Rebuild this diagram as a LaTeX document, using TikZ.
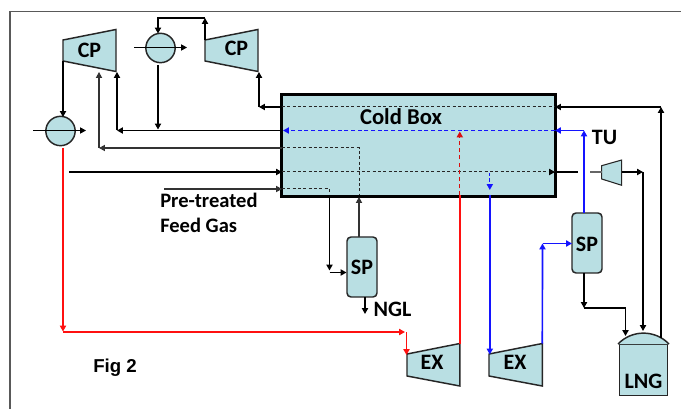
\documentclass[tikz,border=0pt]{standalone}
\usepackage{fontspec}
\setmainfont{Carlito}
\newfontfamily\figfont{Liberation Sans}
\usetikzlibrary{arrows.meta}
\definecolor{ice}{HTML}{B9DFE3}
\definecolor{redline}{HTML}{FF1010}
\definecolor{blueline}{HTML}{1414FF}
\tikzset{
  x=0.75pt,y=-0.75pt,
  tip/.style={-{Triangle[length=4.4pt,width=4.6pt]}},
  flow/.style={line width=1pt,black,line join=miter},
  thinflow/.style={line width=0.8pt,black!80},
  redflow/.style={line width=1.25pt,redline},
  blueflow/.style={line width=1.25pt,blueline},
  indash/.style={line width=0.75pt,dash pattern=on 2.2pt off 1.8pt,black!85},
  equip/.style={draw=black!85,line width=1.1pt,fill=ice,line join=miter},
  cooler/.style={circle,draw=black!85,line width=1.1pt,fill=ice,minimum size=22pt,inner sep=0pt},
  sep/.style={draw=black!85,line width=1.1pt,fill=ice,rounded corners=3pt,minimum width=22.5pt,minimum height=45pt,inner sep=0pt},
  lbl/.style={font=\fontsize{16.5}{18}\selectfont\bfseries,text=black,inner sep=0pt},
  feedlbl/.style={font=\fontsize{15.4}{18}\selectfont\bfseries,text=black,inner sep=0pt,anchor=west},
}
\begin{document}
\begin{tikzpicture}
\useasboundingbox (0,0) rectangle (681,409);
\fill[white] (0,0) rectangle (681,409);
\draw[line width=0.8pt,black!65] (10,409) -- (10,11.5) -- (681,11.5);

% points
\coordinate (cpAa) at (63,40);   \coordinate (cpAb) at (116,29.5);
\coordinate (cpAc) at (116,71.5);\coordinate (cpAd) at (63,61);
\coordinate (cpBa) at (205,40);  \coordinate (cpBb) at (258,29.5);
\coordinate (cpBc) at (258,71.5);\coordinate (cpBd) at (205,61);
\coordinate (exAa) at (407,354); \coordinate (exAb) at (459.8,343.5);
\coordinate (exAc) at (459.8,386);\coordinate (exAd) at (407,376);
\coordinate (exBa) at (489,354); \coordinate (exBb) at (542.3,343.5);
\coordinate (exBc) at (542.3,386);\coordinate (exBd) at (489,376);
\coordinate (tuAa) at (601.7,165.7);\coordinate (tuAb) at (621.7,160);
\coordinate (tuAc) at (621.7,185.3);\coordinate (tuAd) at (601.7,179);

% cold box
\node[draw=black,line width=2.2pt,fill=ice,minimum width=205.5pt,minimum height=76.5pt,inner sep=0pt] (box) at (418.7,145.3) {};

% dashed passes in the box
\coordinate (p1w) at (282,107);    \coordinate (p1e) at (555,107);
\coordinate (p2w) at (283,130.5);  \coordinate (p2e) at (555,130.5);
\coordinate (p3w) at (282,148);    \coordinate (p3c) at (359,148);  \coordinate (p3s) at (359,195);
\coordinate (p4w) at (282,172);    \coordinate (p4e) at (555,172);
\coordinate (p5w) at (282,189);    \coordinate (p5c) at (329.5,189);\coordinate (p5s) at (329.5,195);
\draw[indash] (p1w) -- (p1e);
\draw[indash] (p3w) -- (p3c) -- (p3s);
\draw[indash] (p4w) -- (p4e);
\draw[indash] (p5w) -- (p5c) -- (p5s);
\draw[line width=1pt,blueline,dash pattern=on 3pt off 2pt,tip] (p2e) -- (p2w);
\coordinate (rs) at (459.8,195.5); \coordinate (rt) at (459.8,131.5);
\draw[line width=1pt,redline!85!black,dash pattern=on 3pt off 2.4pt,tip] (rs) -- (rt);
\coordinate (bs) at (489.8,173); \coordinate (bt) at (489.8,190);
\draw[line width=0.8pt,blueline,dash pattern=on 2.5pt off 1.6pt,tip] (bs) -- (bt);

% equipment
\draw[equip] (cpAa) -- (cpAb) -- (cpAc) -- (cpAd) -- cycle;
\draw[equip] (cpBa) -- (cpBb) -- (cpBc) -- (cpBd) -- cycle;
\draw[equip] (exAa) -- (exAb) -- (exAc) -- (exAd) -- cycle;
\draw[equip] (exBa) -- (exBb) -- (exBc) -- (exBd) -- cycle;
\draw[equip,line width=0.8pt] (tuAa) -- (tuAb) -- (tuAc) -- (tuAd) -- cycle;
\node[cooler] (clA) at (160.5,48) {};
\node[cooler] (clB) at (60.5,131) {};
\node[sep] (spA) at (362,267) {};
\node[sep] (spB) at (587,243) {};
\coordinate (lngNW) at (619.5,344.5); \coordinate (lngSE) at (667.5,395.7);
\draw[equip] (lngNW) rectangle (lngSE);
\coordinate (domeW) at (618,344); \coordinate (domeE) at (669,344);
\fill[ice] (domeW) .. controls (632,329.5) and (655,329.5) .. (domeE) -- cycle;
\draw[line width=1.1pt,black!85] (domeW) .. controls (632,329.5) and (655,329.5) .. (domeE);

% top cooler and compressors
\coordinate (clAw) at (134,47.5); \coordinate (clAe) at (187,47.5);
\draw[thinflow,black,tip] (clAw) -- (clAe);
\coordinate (clBw) at (33,130.5); \coordinate (clBe) at (86,130.5);
\draw[thinflow,black,tip] (clBw) -- (clBe);
\coordinate (j1) at (205,18);
\draw[flow,tip] (cpBa) -- (j1);
\coordinate (t1) at (158,18); \coordinate (t2) at (158,33.5);
\draw[flow,tip] (j1) -- (t1) -- (t2);
\coordinate (c1) at (158,65); \coordinate (c2) at (158,129.5);
\draw[flow,tip] (c1) -- (c2);
\coordinate (m1) at (117,130.5); \coordinate (m2) at (117,72);
\draw[flow,tip] (p2w -| box.west) -- (m1);
\draw[flow,tip] (m1) -- (m2);
\coordinate (n1) at (99,148); \coordinate (n2) at (99,72);
\draw[thinflow,tip] (p3w) -- (n1);
\draw[thinflow,tip] (n1) -- (n2);
\coordinate (o1) at (259,107); \coordinate (o2) at (259,72);
\draw[flow,tip] (p1w) -- (o1);
\draw[flow,tip] (o1) -- (o2);
\coordinate (q1) at (63,117);
\draw[flow,tip] (cpAd) -- (q1);
\coordinate (s1) at (69,172);
\draw[flow,tip] (s1) -- (p4w);
\coordinate (s2) at (164,189);
\draw[thinflow,tip] (s2) -- (p5w);

% SP 1
\coordinate (u1) at (329.5,270.5); \coordinate (u2) at (329.5,272.5); \coordinate (u3) at (346.5,272.5);
\draw[flow,tip] (p5s) -- (u1);
\draw[flow,tip] (u2) -- (u3);
\coordinate (v1) at (359,237); \coordinate (v2) at (359,197);
\draw[thinflow,tip] (v1) -- (v2);
\coordinate (w1) at (365,297); \coordinate (w2) at (365,314);
\draw[flow,tip] (w1) -- (w2);

% red
\coordinate (r0) at (63,148); \coordinate (r1) at (63,331.5); \coordinate (r2) at (63,332);
\coordinate (r3) at (405,332); \coordinate (r4) at (406.5,332); \coordinate (r5) at (406.5,355);
\draw[redflow,tip] (r0) -- (r1);
\draw[redflow,tip] (r2) -- (r3);
\draw[redflow,tip] (r4) -- (r5);
\draw[redflow] (exAb) -- (rs);

% blue
\coordinate (b1) at (489.8,195.5); \coordinate (b2) at (489.8,354.5);
\draw[blueflow,tip] (b1) -- (b2);
\coordinate (b3) at (542.5,243.5); \coordinate (b4) at (572,243.5);
\draw[blueflow,tip] (exBb) -- (b3);
\draw[blueflow,tip] (b3) -- (b4);
\coordinate (b5) at (584,213); \coordinate (b6) at (584,130.5);
\draw[blueflow,tip] (b5) -- (b6);
\draw[blueflow,tip] (b6) -- (p2e);

% right side
\coordinate (d0) at (578,172); \coordinate (d1) at (590,172);
\draw[flow,tip] (p4e) ++(-3,0) -- +(3,0);
\draw[flow] (p4e) -- (d0);
\draw[thinflow,black!60] (d1) -- (601.7,172);
\coordinate (d2) at (621.7,172); \coordinate (d3) at (643,172); \coordinate (d4) at (643,331);
\draw[flow,tip] (d2) -- (d3);
\draw[flow,tip] (d3) -- (d4);
\coordinate (e1) at (661,338); \coordinate (e2) at (661,107);
\draw[flow,tip] (e1) -- (e2);
\draw[flow,tip] (e2) -- (p1e);
\coordinate (f1) at (584,273); \coordinate (f2) at (584,308); \coordinate (f3) at (625.5,308); \coordinate (f4) at (625.5,336);
\draw[flow,tip] (f1) -- (f2);
\draw[flow,tip] (f2) -- (f3) -- (f4);

% labels
\node[lbl] (tCPa) at (89.5,50.5) {CP};
\node[lbl] (tCPb) at (236.5,48) {CP};
\node[lbl,font=\fontsize{17}{18}\selectfont\bfseries] (tBox) at (401,117) {Cold Box};
\node[lbl] (tTU) at (604.5,137) {TU};
\node[lbl] (tSPa) at (362,267) {SP};
\node[lbl] (tSPb) at (587,244) {SP};
\node[lbl] (tNGL) at (392.5,309.5) {NGL};
\node[lbl] (tEXa) at (432,362) {EX};
\node[lbl] (tEXb) at (515,362) {EX};
\node[lbl] (tLNG) at (643.5,381) {LNG};
\node[feedlbl] (tPre) at (160,200.5) {Pre-treated};
\node[feedlbl] (tFeed) at (160,225.5) {Feed Gas};
\node[inner sep=0pt,anchor=west,font=\fontsize{14}{15}\selectfont\figfont\bfseries] (tFig) at (93,367.5) {Fig 2};
\end{tikzpicture}
\end{document}
